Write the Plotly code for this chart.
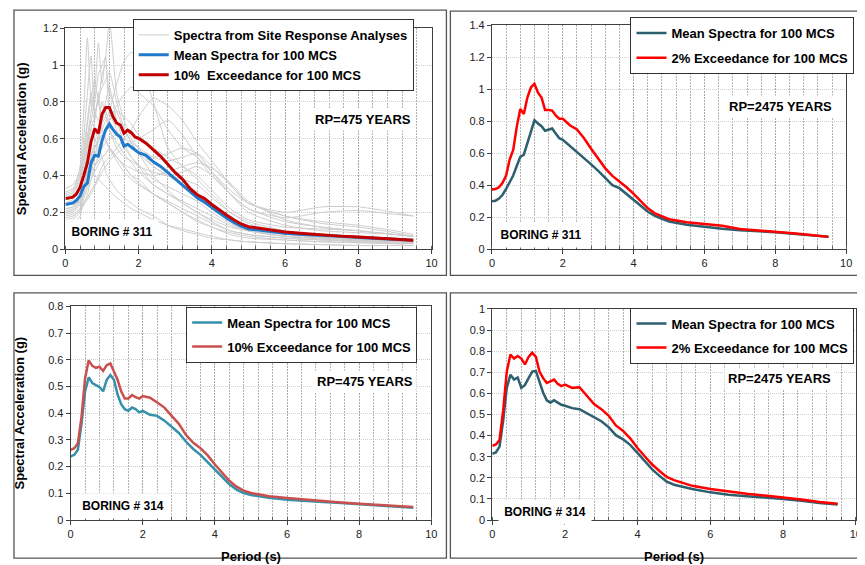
import plotly.graph_objects as go

W, H = 865, 565

# ---------------- data ----------------
period = [0, 0.1, 0.2, 0.3, 0.4, 0.5, 0.6, 0.7, 0.8, 0.9, 1.0, 1.1, 1.2, 1.3, 1.4, 1.5,
          1.6, 1.7, 1.8, 1.9, 2.0, 2.2, 2.4, 2.6, 2.8, 3.0, 3.2, 3.4, 3.6, 3.8, 4.0, 4.2,
          4.4, 4.6, 4.8, 5.0, 5.5, 6.0, 6.5, 7.0, 7.5, 8.0, 8.5, 9.0, 9.5]

b311_mean_475 = [0.243, 0.245, 0.25, 0.265, 0.29, 0.34, 0.36, 0.47, 0.51, 0.505, 0.59, 0.65,
                 0.68, 0.65, 0.625, 0.61, 0.56, 0.57, 0.555, 0.535, 0.525, 0.51, 0.475, 0.45,
                 0.415, 0.38, 0.345, 0.31, 0.28, 0.255, 0.225, 0.2, 0.17, 0.145, 0.125, 0.11,
                 0.098, 0.087, 0.08, 0.073, 0.07, 0.064, 0.058, 0.055, 0.048]
b311_p10_475 = [0.275, 0.277, 0.283, 0.30, 0.337, 0.40, 0.47, 0.585, 0.655, 0.63, 0.735, 0.77,
                0.77, 0.72, 0.685, 0.675, 0.63, 0.647, 0.633, 0.61, 0.603, 0.576, 0.54, 0.505,
                0.46, 0.416, 0.38, 0.33, 0.296, 0.275, 0.243, 0.213, 0.186, 0.16, 0.137, 0.122,
                0.106, 0.094, 0.085, 0.076, 0.071, 0.066, 0.06, 0.055, 0.048]

b311_mean_2475 = [0.30, 0.303, 0.316, 0.34, 0.377, 0.42, 0.46, 0.52, 0.577, 0.59, 0.66, 0.733,
                  0.805, 0.785, 0.768, 0.74, 0.748, 0.754, 0.723, 0.693, 0.683, 0.646, 0.607,
                  0.566, 0.53, 0.489, 0.444, 0.40, 0.381, 0.346, 0.308, 0.271, 0.234, 0.208,
                  0.19, 0.173, 0.153, 0.139, 0.128, 0.118, 0.114, 0.106, 0.096, 0.088, 0.077]
b311_p2_2475 = [0.373, 0.376, 0.387, 0.415, 0.46, 0.56, 0.62, 0.764, 0.876, 0.845, 0.947, 1.01,
                1.033, 0.978, 0.947, 0.87, 0.87, 0.866, 0.835, 0.815, 0.815, 0.774, 0.748,
                0.693, 0.628, 0.57, 0.505, 0.458, 0.424, 0.387, 0.346, 0.30, 0.255, 0.224,
                0.204, 0.187, 0.169, 0.159, 0.147, 0.126, 0.118, 0.112, 0.10, 0.088, 0.077]

b314_mean_475 = [0.238, 0.244, 0.263, 0.36, 0.482, 0.534, 0.513, 0.504, 0.497, 0.482, 0.525,
                 0.543, 0.525, 0.47, 0.434, 0.415, 0.409, 0.421, 0.415, 0.403, 0.409, 0.394,
                 0.39, 0.372, 0.35, 0.326, 0.293, 0.266, 0.244, 0.217, 0.189, 0.159, 0.134,
                 0.114, 0.101, 0.094, 0.083, 0.076, 0.071, 0.067, 0.064, 0.059, 0.055, 0.051,
                 0.046]
b314_p10_475 = [0.263, 0.269, 0.287, 0.385, 0.531, 0.598, 0.577, 0.570, 0.574, 0.558, 0.58,
                0.586, 0.556, 0.525, 0.482, 0.455, 0.455, 0.468, 0.46, 0.455, 0.464, 0.458,
                0.44, 0.421, 0.39, 0.36, 0.318, 0.289, 0.269, 0.242, 0.208, 0.177, 0.147,
                0.125, 0.11, 0.101, 0.089, 0.082, 0.076, 0.071, 0.066, 0.061, 0.057, 0.054,
                0.049]

b314_mean_2475 = [0.314, 0.32, 0.348, 0.47, 0.626, 0.688, 0.665, 0.675, 0.626, 0.64, 0.672,
                  0.703, 0.706, 0.657, 0.603, 0.567, 0.556, 0.567, 0.556, 0.546, 0.541, 0.53,
                  0.525, 0.505, 0.484, 0.468, 0.44, 0.402, 0.382, 0.355, 0.317, 0.278, 0.24,
                  0.209, 0.182, 0.167, 0.147, 0.131, 0.12, 0.113, 0.108, 0.10, 0.091, 0.08,
                  0.073]
b314_p2_2475 = [0.351, 0.358, 0.379, 0.518, 0.703, 0.784, 0.765, 0.777, 0.765, 0.737, 0.773,
                0.793, 0.773, 0.703, 0.672, 0.649, 0.657, 0.665, 0.645, 0.634, 0.641, 0.626,
                0.629, 0.587, 0.549, 0.525, 0.495, 0.448, 0.422, 0.386, 0.34, 0.301, 0.263,
                0.232, 0.204, 0.189, 0.162, 0.147, 0.134, 0.124, 0.116, 0.108, 0.097, 0.085,
                0.077]

# individual site-response spectra (boring 311)
site_period = [0, 0.2, 0.4, 0.5, 0.6, 0.7, 0.8, 0.9, 1.0, 1.1, 1.2, 1.4, 1.6, 1.8, 2.0, 2.4,
               2.8, 3.2, 3.6, 4.0, 4.5, 5.0, 6.0, 7.0, 8.0, 9.0, 9.5]
site_01 = [0.30, 0.32, 0.45, 0.75, 1.15, 0.80, 0.70, 0.85, 0.65, 0.60, 0.55, 0.50, 0.45, 0.40,
           0.38, 0.30, 0.25, 0.20, 0.15, 0.12, 0.08, 0.06, 0.05, 0.04, 0.035, 0.03, 0.03]
site_02 = [0.25, 0.27, 0.35, 0.45, 0.60, 0.75, 0.85, 1.12, 0.90, 1.05, 0.75, 0.65, 0.55, 0.50,
           0.45, 0.35, 0.30, 0.25, 0.20, 0.15, 0.10, 0.08, 0.06, 0.05, 0.04, 0.035, 0.03]
site_03 = [0.28, 0.30, 0.38, 0.50, 0.62, 0.70, 0.80, 0.95, 1.00, 1.05, 1.25, 0.85, 0.70, 0.60,
           0.55, 0.45, 0.40, 0.35, 0.30, 0.22, 0.15, 0.10, 0.07, 0.06, 0.05, 0.04, 0.04]
site_04 = [0.20, 0.21, 0.25, 0.30, 0.35, 0.42, 0.50, 0.60, 0.65, 0.70, 0.75, 0.90, 1.02, 1.07,
           1.03, 0.80, 0.55, 0.45, 0.38, 0.30, 0.20, 0.15, 0.10, 0.08, 0.07, 0.06, 0.05]
site_05 = [0.22, 0.23, 0.28, 0.32, 0.38, 0.45, 0.50, 0.55, 0.60, 0.65, 0.70, 0.78, 0.84, 0.88,
           0.85, 0.78, 0.65, 0.55, 0.50, 0.42, 0.32, 0.25, 0.18, 0.14, 0.12, 0.09, 0.07]
site_06 = [0.18, 0.19, 0.22, 0.25, 0.28, 0.32, 0.35, 0.40, 0.45, 0.48, 0.50, 0.55, 0.60, 0.65,
           0.72, 0.82, 0.78, 0.70, 0.58, 0.48, 0.35, 0.25, 0.18, 0.15, 0.13, 0.10, 0.08]
site_07 = [0.15, 0.16, 0.20, 0.25, 0.30, 0.38, 0.45, 0.50, 0.55, 0.58, 0.60, 0.62, 0.60, 0.58,
           0.55, 0.50, 0.48, 0.50, 0.52, 0.45, 0.35, 0.25, 0.20, 0.23, 0.23, 0.20, 0.18]
site_08 = [0.25, 0.26, 0.30, 0.40, 0.55, 0.70, 0.65, 0.60, 0.70, 0.75, 0.65, 0.55, 0.50, 0.48,
           0.45, 0.42, 0.40, 0.42, 0.45, 0.40, 0.30, 0.22, 0.17, 0.20, 0.21, 0.19, 0.18]
site_09 = [0.13, 0.14, 0.18, 0.30, 0.50, 0.65, 0.60, 0.55, 0.50, 0.42, 0.38, 0.32, 0.28, 0.25,
           0.22, 0.18, 0.13, 0.10, 0.08, 0.06, 0.05, 0.04, 0.03, 0.025, 0.02, 0.02, 0.02]
site_10 = [0.33, 0.35, 0.42, 0.55, 0.70, 0.85, 0.75, 0.80, 0.95, 1.00, 0.85, 0.75, 0.65, 0.58,
           0.52, 0.40, 0.32, 0.25, 0.20, 0.16, 0.12, 0.10, 0.07, 0.06, 0.05, 0.045, 0.04]
site_11 = [0.24, 0.25, 0.30, 0.35, 0.42, 0.50, 0.58, 0.62, 0.68, 0.72, 0.70, 0.75, 0.72, 0.68,
           0.62, 0.55, 0.50, 0.45, 0.40, 0.32, 0.22, 0.16, 0.12, 0.11, 0.10, 0.08, 0.07]
site_12 = [0.20, 0.21, 0.26, 0.32, 0.38, 0.42, 0.45, 0.48, 0.50, 0.52, 0.55, 0.50, 0.45, 0.40,
           0.36, 0.30, 0.25, 0.20, 0.16, 0.12, 0.09, 0.07, 0.05, 0.04, 0.035, 0.03, 0.03]
site_13 = [0.27, 0.28, 0.36, 0.50, 0.68, 0.82, 0.92, 0.80, 0.72, 0.80, 0.88, 0.70, 0.58, 0.50,
           0.46, 0.38, 0.34, 0.30, 0.26, 0.20, 0.14, 0.10, 0.08, 0.065, 0.055, 0.05, 0.045]
site_14 = [0.22, 0.23, 0.27, 0.33, 0.40, 0.48, 0.55, 0.60, 0.62, 0.65, 0.68, 0.62, 0.58, 0.55,
           0.52, 0.50, 0.52, 0.55, 0.52, 0.42, 0.30, 0.20, 0.13, 0.10, 0.09, 0.08, 0.07]
site_15 = [0.16, 0.17, 0.22, 0.30, 0.45, 0.42, 0.40, 0.38, 0.36, 0.34, 0.32, 0.28, 0.25, 0.22,
           0.20, 0.16, 0.13, 0.11, 0.09, 0.07, 0.05, 0.04, 0.03, 0.025, 0.02, 0.02, 0.02]
site_16 = [0.29, 0.31, 0.40, 0.60, 0.85, 1.05, 0.75, 0.70, 0.80, 0.72, 0.65, 0.58, 0.52, 0.47,
           0.42, 0.35, 0.30, 0.26, 0.22, 0.18, 0.13, 0.10, 0.07, 0.055, 0.045, 0.04, 0.035]
site_17 = [0.17, 0.18, 0.21, 0.24, 0.27, 0.30, 0.34, 0.38, 0.42, 0.45, 0.48, 0.52, 0.55, 0.58,
           0.60, 0.65, 0.70, 0.62, 0.50, 0.40, 0.30, 0.22, 0.15, 0.12, 0.10, 0.08, 0.07]
site_18 = [0.21, 0.22, 0.27, 0.35, 0.45, 0.52, 0.55, 0.58, 0.62, 0.58, 0.55, 0.48, 0.42, 0.38,
           0.35, 0.30, 0.26, 0.22, 0.18, 0.14, 0.10, 0.08, 0.06, 0.05, 0.045, 0.04, 0.035]
site_19 = [0.31, 0.33, 0.40, 0.48, 0.58, 0.66, 0.72, 0.82, 0.88, 0.92, 0.96, 0.80, 0.66, 0.58,
           0.52, 0.45, 0.40, 0.38, 0.35, 0.28, 0.20, 0.14, 0.09, 0.07, 0.06, 0.05, 0.045]
site_20 = [0.19, 0.20, 0.24, 0.28, 0.33, 0.38, 0.42, 0.46, 0.50, 0.52, 0.54, 0.50, 0.46, 0.44,
           0.42, 0.40, 0.42, 0.45, 0.47, 0.44, 0.36, 0.26, 0.16, 0.12, 0.10, 0.08, 0.07]
site_spectra = [site_01, site_02, site_03, site_04, site_05, site_06, site_07, site_08,
                site_09, site_10, site_11, site_12, site_13, site_14, site_15, site_16,
                site_17, site_18, site_19, site_20]

# ---------------- helpers ----------------
FONT = "Arial, Liberation Sans, sans-serif"
OFF = 8  # the page body margin shifts the figure by this many pixels


def px_x(p):
    return (p - OFF) / W


def px_y(p):
    return (H - (p - OFF)) / H


fig = go.Figure()

gx, gy = [], []
for s in site_spectra:
    gx += site_period + [None]
    gy += s + [None]
fig.add_trace(go.Scatter(x=gx, y=gy, mode="lines", name="Spectra from Site Response Analyses",
                         line=dict(color="#cdcdcd", width=1, shape="spline", smoothing=0.6),
                         connectgaps=False, xaxis="x", yaxis="y", legend="legend",
                         legendgroup="g1"))
fig.add_trace(go.Scatter(x=period, y=b311_mean_475, mode="lines", name="Mean Spectra for 100 MCS",
                         line=dict(color="#1f7acb", width=3), xaxis="x", yaxis="y",
                         legend="legend", legendgroup="g2"))
fig.add_trace(go.Scatter(x=period, y=b311_p10_475, mode="lines",
                         name="10%  Exceedance for 100 MCS",
                         line=dict(color="#c00000", width=3), xaxis="x", yaxis="y",
                         legend="legend", legendgroup="g3"))

fig.add_trace(go.Scatter(x=period, y=b311_mean_2475, mode="lines", name="Mean Spectra for 100 MCS",
                         line=dict(color="#2d5f6e", width=2.5), xaxis="x2", yaxis="y2",
                         legend="legend2", legendgroup="h1"))
fig.add_trace(go.Scatter(x=period, y=b311_p2_2475, mode="lines", name="2% Exceedance for 100 MCS",
                         line=dict(color="#ff0000", width=2.5), xaxis="x2", yaxis="y2",
                         legend="legend2", legendgroup="h2"))

fig.add_trace(go.Scatter(x=period, y=b314_mean_475, mode="lines", name="Mean Spectra for 100 MCS",
                         line=dict(color="#3590aa", width=2.5), xaxis="x3", yaxis="y3",
                         legend="legend3", legendgroup="k1"))
fig.add_trace(go.Scatter(x=period, y=b314_p10_475, mode="lines", name="10% Exceedance for 100 MCS",
                         line=dict(color="#c9504d", width=2.5), xaxis="x3", yaxis="y3",
                         legend="legend3", legendgroup="k2"))

fig.add_trace(go.Scatter(x=period, y=b314_mean_2475, mode="lines", name="Mean Spectra for 100 MCS",
                         line=dict(color="#2d5f6e", width=2.5), xaxis="x4", yaxis="y4",
                         legend="legend4", legendgroup="m1"))
fig.add_trace(go.Scatter(x=period, y=b314_p2_2475, mode="lines", name="2% Exceedance for 100 MCS",
                         line=dict(color="#ff0000", width=2.5), xaxis="x4", yaxis="y4",
                         legend="legend4", legendgroup="m2"))

# panel geometry (pixels): plot-area left, right, top, bottom, y max, y step
panels = {
    "1": (63, 433, 22.7, 248.3, 1.2, 0.2),
    "2": (494, 852, 19.3, 248.3, 1.4, 0.2),
    "3": (68.3, 432.7, 306.7, 525, 0.8, 0.1),
    "4": (494.3, 861.7, 309.3, 525, 1.0, 0.1),
}

tickfont = dict(family=FONT, size=11, color="#222222")
titlefont = dict(family=FONT, size=13, color="#000000", weight="bold")
layout = {}
for k, (l, r, t, b, ymax, dy) in panels.items():
    xs = "xaxis" if k == "1" else f"xaxis{k}"
    ys = "yaxis" if k == "1" else f"yaxis{k}"
    anchor_y = "y" if k == "1" else f"y{k}"
    anchor_x = "x" if k == "1" else f"x{k}"
    layout[xs] = dict(domain=[px_x(l), px_x(r)], range=[0, 10], dtick=2, anchor=anchor_y,
                      showline=True, linecolor="#404040", linewidth=1, mirror=True,
                      ticks="outside", ticklen=4, tickcolor="#404040", tickfont=tickfont,
                      showgrid=True, gridcolor="#a8a8a8", griddash="2px,1px", gridwidth=1,
                      zeroline=False, ticklabeloverflow="allow",
                      minor=dict(dtick=0.4, ticks="inside", ticklen=3, tickcolor="#606060",
                                 showgrid=True, gridcolor="#b4b4b4", griddash="2px,1px"))
    layout[ys] = dict(domain=[px_y(b), px_y(t)], range=[0, ymax], dtick=dy, anchor=anchor_x,
                      showline=True, linecolor="#404040", linewidth=1, mirror=True,
                      ticks="outside", ticklen=4, tickcolor="#404040", tickfont=tickfont,
                      showgrid=True, gridcolor="#cfcfcf", griddash="1px,1px", gridwidth=1,
                      zeroline=False)

layout["yaxis"]["title"] = dict(text="Spectral Acceleration (g)", font=titlefont, standoff=13)
layout["yaxis3"]["title"] = dict(text="Spectral Acceleration (g)", font=titlefont, standoff=20)
layout["xaxis3"]["title"] = dict(text="Period (s)", font=titlefont, standoff=12)
layout["xaxis4"]["title"] = dict(text="Period (s)", font=titlefont, standoff=12)

legfont = dict(family=FONT, size=13, color="#000000", weight="bold")


def leg(x, y, gap):
    return dict(x=px_x(x), y=px_y(y), xanchor="left", yanchor="top", bgcolor="white",
                bordercolor="#333333", borderwidth=1, font=legfont, tracegroupgap=gap,
                itemwidth=30)


layout["legend"] = leg(131, 13, 0)
layout["legend2"] = leg(634, 11, 5)
layout["legend3"] = leg(185, 307, 4)
layout["legend4"] = leg(634, 308, 4)

annfont = dict(family=FONT, size=13, color="#000000", weight="bold")
borfont = dict(family=FONT, size=12, color="#000000", weight="bold")
annotations = []
for (cx, cy, txt) in [(364, 116, "RP=475 YEARS"), (786, 103, "RP=2475 YEARS"),
                      (366, 383, "RP=475 YEARS"), (785, 380, "RP=2475 YEARS")]:
    annotations.append(dict(xref="paper", yref="paper", x=px_x(cx), y=px_y(cy), text=txt,
                            showarrow=False, font=annfont, bgcolor="white", borderpad=3,
                            xanchor="center", yanchor="middle"))
for (cx, cy, txt) in [(110, 231, "BORING # 311"), (544, 234, "BORING # 311"),
                      (121, 511, "BORING # 314"), (548, 517, "BORING # 314")]:
    annotations.append(dict(xref="paper", yref="paper", x=px_x(cx), y=px_y(cy), text=txt,
                            showarrow=False, font=borfont, bgcolor="white", width=90, height=22,
                            xanchor="center", yanchor="middle"))

shapes = []
for (x0, y0, x1, y1) in [(11, 4, 448, 275), (452, 5, 880, 275),
                         (11, 293, 448, 564), (452, 293, 880, 564)]:
    shapes.append(dict(type="rect", xref="paper", yref="paper", x0=px_x(x0), x1=px_x(x1),
                       y0=px_y(y0), y1=px_y(y1), line=dict(color="#555555", width=1.3),
                       layer="below"))

fig.update_layout(width=W, height=H, margin=dict(l=0, r=0, t=0, b=0),
                  paper_bgcolor="white", plot_bgcolor="white",
                  annotations=annotations, shapes=shapes, **layout)

fig.write_html("out.html")
